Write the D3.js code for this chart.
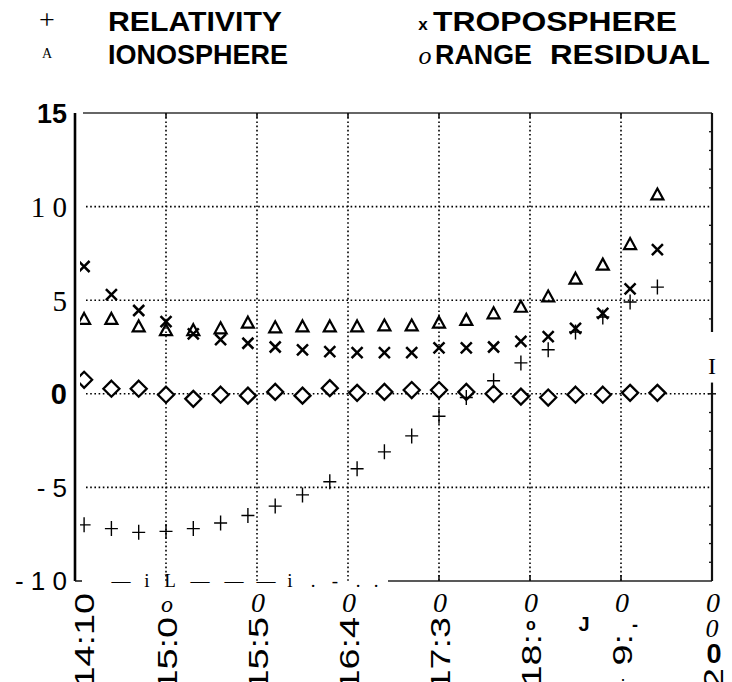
<!DOCTYPE html>
<html><head><meta charset="utf-8">
<script src="https://cdn.jsdelivr.net/npm/d3@7"></script>
<style>
html,body{margin:0;padding:0;background:#fff;}
svg{display:block;}
</style></head>
<body>
<script>
// ---- data ----
const times = ["14:15","14:30","14:45","15:00","15:15","15:30","15:45","16:00","16:15","16:30","16:45",
               "17:00","17:15","17:30","17:45","18:00","18:15","18:30","18:45","19:00","19:15","19:30"];
const relativity   = [-7.0,-7.2,-7.4,-7.35,-7.2,-6.9,-6.5,-6.0,-5.4,-4.7,-4.0,-3.1,-2.25,-1.2,-0.2,0.7,1.65,2.35,3.3,4.1,4.9,5.7];
const troposphere  = [6.8,5.3,4.45,3.85,3.2,2.9,2.7,2.5,2.35,2.25,2.2,2.2,2.2,2.45,2.45,2.5,2.8,3.05,3.5,4.3,5.6,7.7];
const ionosphere   = [4.0,4.0,3.6,3.4,3.4,3.5,3.8,3.55,3.6,3.6,3.6,3.65,3.65,3.8,3.95,4.3,4.65,5.2,6.15,6.9,8.0,10.65];
const rangeResidual= [0.75,0.27,0.27,-0.05,-0.27,-0.05,-0.1,0.1,-0.1,0.3,0.05,0.1,0.2,0.2,0.1,0.0,-0.15,-0.2,-0.05,-0.05,0.05,0.05];
const tickTimes    = ["14:10","15:00","15:50","16:40","17:30","18:20","19:10","20:00"];
const tickRotated  = ["14:10","15:0","15:5","16:4","17:3","18:","9:","2"];
const tickTop      = ["","o","0","0","0","0","0","0"];
const yTicks       = [15,10,5,0,-5,-10];
const yTickLabels  = ["15","1 0","5","0","- 5","- 1 0"];
const legendNames  = ["RELATIVITY","TROPOSPHERE","IONOSPHERE","RANGE  RESIDUAL"];

const toMin = s => { const [h,m] = s.split(":").map(Number); return h*60+m; };

const W = 732, H = 682;
const svg = d3.select("body").append("svg").attr("width",W).attr("height",H);

const x = d3.scaleLinear().domain([toMin("14:10"), toMin("20:00")]).range([75, 712]);
const y = d3.scaleLinear().domain([-10, 15]).range([581, 113]);

const sans = "'Liberation Sans', Arial, sans-serif";
const serif = "'Liberation Serif', 'Times New Roman', serif";

// ---- grid ----
const grid = svg.append("g").attr("stroke","#000").attr("stroke-width",1.6).attr("stroke-dasharray","1.6,2.6");
grid.selectAll("line.h").data([10,5,0,-5]).join("line")
  .attr("x1",86).attr("x2",x(toMin("20:00"))).attr("y1",d=>y(d)).attr("y2",d=>y(d));
grid.selectAll("line.v").data(tickTimes.slice(1,7)).join("line")
  .attr("x1",d=>x(toMin(d))).attr("x2",d=>x(toMin(d))).attr("y1",y(15)).attr("y2",y(-10));

// ---- frame ----
const frame = svg.append("g").attr("stroke","#111").attr("fill","none");
frame.append("line").attr("x1",83).attr("x2",x(toMin("20:00"))).attr("y1",y(15)).attr("y2",y(15)).attr("stroke-width",1.4).attr("stroke","#333");
frame.selectAll("line.tt").data(tickTimes.slice(1)).join("line")
  .attr("x1",d=>x(toMin(d))).attr("x2",d=>x(toMin(d))).attr("y1",y(15)).attr("y2",y(15)+5).attr("stroke-width",1.6);
// left axis
frame.append("line").attr("x1",75).attr("x2",75).attr("y1",y(15)).attr("y2",y(-10)).attr("stroke-width",2.6).attr("stroke","#000");
// right axis (broken)
const xr = x(toMin("20:00"));
frame.append("line").attr("x1",xr).attr("x2",xr).attr("y1",y(15)).attr("y2",y(3.3)).attr("stroke-width",2.2);
frame.append("line").attr("x1",xr).attr("x2",xr).attr("y1",y(0.6)).attr("y2",y(-10)).attr("stroke-width",2.2);
frame.append("line").attr("x1",xr-4).attr("x2",xr+4).attr("y1",y(0)).attr("y2",y(0)).attr("stroke-width",1.5);
frame.selectAll("line.mt").data(d3.range(-9,15).filter(v=>v%5!==0 && (v>3.3 || v<0))).join("line")
  .attr("x1",xr-3).attr("x2",xr).attr("y1",d=>y(d)).attr("y2",d=>y(d)).attr("stroke-width",1.3);
svg.append("text").attr("x",xr).attr("y",y(1.05)).attr("text-anchor","middle")
  .attr("font-family",serif).attr("font-size",24).text("I");
// bottom axis (partly broken)
frame.append("line").attr("x1",388).attr("x2",xr).attr("y1",y(-10)).attr("y2",y(-10)).attr("stroke-width",1.5).attr("stroke","#222");
frame.selectAll("line.bt").data(tickTimes.slice(4)).join("line")
  .attr("x1",d=>x(toMin(d))).attr("x2",d=>x(toMin(d))).attr("y1",y(-10)).attr("y2",y(-10)-6).attr("stroke-width",1.6);
frame.append("line").attr("x1",75).attr("x2",82).attr("y1",y(-10)).attr("y2",y(-10)).attr("stroke-width",1.5);
const brokenBits = [["—",121],["i",147],["L",170],["—",200],["—",234],["—",266],["i",290],[".",313],["-",335],[".",358],[".",376]];
svg.append("g").selectAll("text").data(brokenBits).join("text")
  .attr("x",d=>d[1]).attr("y",y(-10)+6).attr("text-anchor","middle")
  .attr("font-family",serif).attr("font-size",19).text(d=>d[0]);

// ---- y tick labels ----
const yStyles = [
  {f:sans, w:"bold", s:27}, {f:serif, w:"normal", s:29}, {f:serif, w:"normal", s:29},
  {f:sans, w:"bold", s:29}, {f:sans, w:"normal", s:26}, {f:sans, w:"normal", s:26}];
svg.append("g").selectAll("text").data(yTicks).join("text")
  .attr("x",67).attr("y",d=>y(d)).attr("dy","0.36em").attr("text-anchor","end")
  .attr("font-family",(d,i)=>yStyles[i].f).attr("font-weight",(d,i)=>yStyles[i].w)
  .attr("font-size",(d,i)=>yStyles[i].s).text((d,i)=>yTickLabels[i]);

// ---- x tick labels (rotated, as in the scan) ----
const xl = svg.append("g");
tickTimes.forEach((t,i)=>{
  const cx = i===0 ? 84 : x(toMin(t))+1;
  const top = i===0 ? 593 : (i>=5 && i<7 ? 634 : 617);
  const yEnd = i===7 ? 668 : top;
  xl.append("text")
    .attr("transform",`translate(${cx},${yEnd}) rotate(-90) scale(1.35,1)`)
    .attr("text-anchor","end").attr("dy","0.36em")
    .attr("font-family",sans).attr("font-size",28).text(tickRotated[i]);
  if (tickTop[i]) {
    xl.append("text").attr("x",cx).attr("y",612).attr("text-anchor","middle")
      .attr("font-family",serif).attr("font-style","italic")
      .attr("font-size", i===1 ? 24 : 28).text(tickTop[i]);
  }
});
// extra fragments around the lower right labels
xl.append("text").attr("x",531).attr("y",630).attr("text-anchor","middle").attr("font-family",sans).attr("font-weight","bold").attr("font-size",16).text("o");
xl.append("text").attr("x",584).attr("y",631).attr("text-anchor","middle").attr("font-family",sans).attr("font-weight","bold").attr("font-size",20).text("J");
xl.append("text").attr("x",635).attr("y",631).attr("text-anchor","middle").attr("font-family",sans).attr("font-weight","bold").attr("font-size",18).text("-");
xl.append("text").attr("x",623).attr("y",681).attr("text-anchor","middle").attr("font-family",sans).attr("font-size",18).text(".");
xl.append("text").attr("x",712).attr("y",637).attr("text-anchor","middle").attr("font-family",serif).attr("font-style","italic").attr("font-size",26).text("0");
xl.append("text").attr("x",714).attr("y",663).attr("text-anchor","middle").attr("font-family",sans).attr("font-weight","bold").attr("font-size",27).text("0");

// ---- markers ----
svg.append("defs").append("clipPath").attr("id","plotclip")
  .append("rect").attr("x",80).attr("y",100).attr("width",640).attr("height",490);
const plot = svg.append("g").attr("clip-path","url(#plotclip)").attr("fill","none").attr("stroke","#000");
const shapes = {
  plus: "M-6.5,0H6.5M0,-7.5V7.5",
  cross:"M-5.5,-5.5L5.5,5.5M-5.5,5.5L5.5,-5.5",
  tri:  "M0,-6L6,5H-6Z",
  dia:  "M0,-8L8,0L0,8L-8,0Z"
};
function series(vals, shape, sw, fill){
  plot.append("g").selectAll("path").data(vals).join("path")
    .attr("transform",(d,i)=>`translate(${x(toMin(times[i]))},${y(d)})`)
    .attr("d",shapes[shape]).attr("stroke-width",sw).attr("fill",fill||"none");
}
series(rangeResidual,"dia",2.3,"#fff");
series(ionosphere,"tri",2.2,"none");
series(troposphere,"cross",2.5,"none");
series(relativity,"plus",1.4,"none");

// ---- legend ----
const lg = svg.append("g");
lg.append("text").attr("x",47).attr("y",29).attr("text-anchor","middle").attr("font-family",serif).attr("font-size",28).text("+");
lg.append("text").attr("x",47).attr("y",58).attr("text-anchor","middle").attr("font-family",serif).attr("font-size",14).text("A");
lg.append("text").attr("x",423).attr("y",30).attr("text-anchor","middle").attr("font-family",sans).attr("font-weight","bold").attr("font-size",17).text("x");
lg.append("text").attr("x",425).attr("y",64).attr("text-anchor","middle").attr("font-family",serif).attr("font-style","italic").attr("font-size",26).text("o");
const legPos = [[108,31,174],[433,31,244],[108,64,180]];
legPos.forEach((p,i)=>{
  lg.append("text").attr("x",p[0]).attr("y",p[1]).attr("font-family",sans).attr("font-weight","bold")
    .attr("font-size",28).attr("textLength",p[2]).attr("lengthAdjust","spacingAndGlyphs").text(legendNames[i]);
});
const [rg, rs] = legendNames[3].split(/\s+/);
lg.append("text").attr("x",435).attr("y",64).attr("font-family",sans).attr("font-weight","bold")
  .attr("font-size",28).attr("textLength",97).attr("lengthAdjust","spacingAndGlyphs").text(rg);
lg.append("text").attr("x",550).attr("y",64).attr("font-family",sans).attr("font-weight","bold")
  .attr("font-size",28).attr("textLength",160).attr("lengthAdjust","spacingAndGlyphs").text(rs);
</script>
</body></html>
